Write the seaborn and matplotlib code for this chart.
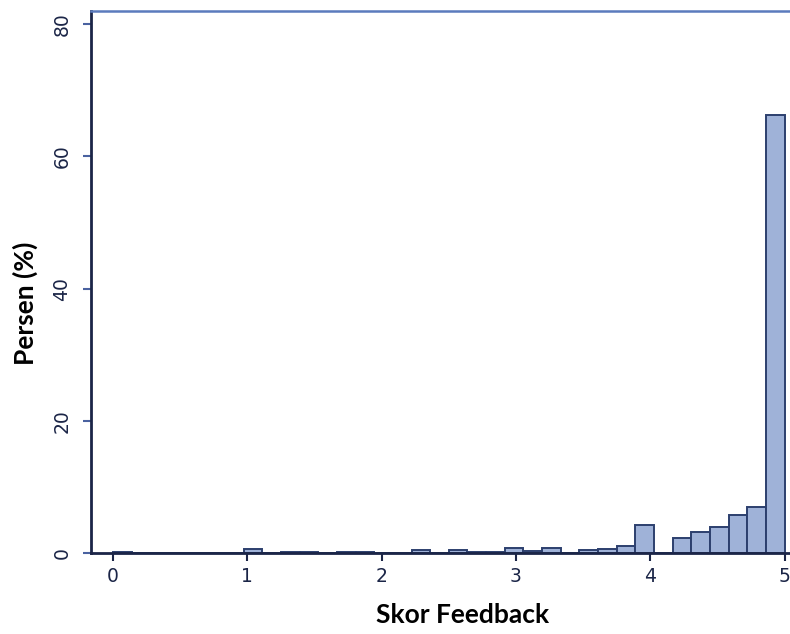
import numpy as np
import pandas as pd
import matplotlib
matplotlib.use("Agg")
import matplotlib.pyplot as plt
import seaborn as sns

# Percentage of respondents per bin (36 equal bins from 0 to 5)
bin_lo = 0.0
bin_hi = 5.0
n_bins = 36
percent = [0.1, 0, 0, 0, 0, 0, 0, 0.65, 0, 0.1,
           0.1, 0, 0.1, 0.1, 0, 0.05, 0.4, 0, 0.45, 0.15,
           0.1, 0.7, 0.3, 0.7, 0, 0.5, 0.65, 1.1, 4.3, 0,
           2.3, 3.2, 4.0, 5.8, 6.95, 66.2]
x_ticks = [0, 1, 2, 3, 4, 5]
y_ticks = [0, 20, 40, 60, 80]

edges = np.linspace(bin_lo, bin_hi, n_bins + 1)
centers = (edges[:-1] + edges[1:]) / 2
df = pd.DataFrame({"skor": centers, "persen": percent})

sns.set_theme(style="white")
plt.rcParams["font.family"] = ["DejaVu Sans"]

fig = plt.figure(figsize=(7.9, 6.34), dpi=100)
ax = fig.add_axes([91 / 790, 1 - 553 / 634, 1 - 91 / 790, (553 - 11) / 634])

navy = "#1b2547"
sns.histplot(data=df, x="skor", weights="persen", bins=n_bins,
             binrange=(bin_lo, bin_hi), ax=ax,
             color="#9fb2d8", edgecolor="#2c3f6e", linewidth=1.4, alpha=1.0)

ax.set_xlim(-0.164, 5.04)
ax.set_ylim(0, 82.0)
ax.set_xticks(x_ticks)
ax.set_yticks(y_ticks)
ax.set_xticklabels([str(t) for t in x_ticks])
ax.set_yticklabels([str(t) for t in y_ticks])

ax.tick_params(axis="x", direction="out", length=6, width=1.5, color=navy,
               labelsize=13.5, labelcolor=navy, pad=4, bottom=True)
ax.tick_params(axis="y", direction="out", length=6, width=1.5, color="#4a62a0",
               labelsize=13.5, labelcolor=navy, pad=8, labelrotation=90, left=True)
for lab in ax.get_yticklabels():
    lab.set_va("center")

for s in ["left", "bottom"]:
    ax.spines[s].set_color(navy)
    ax.spines[s].set_linewidth(2)
ax.spines["top"].set_color("#5b7bbd")
ax.spines["top"].set_linewidth(1.8)
ax.spines["right"].set_visible(False)

ax.set_xlabel("Skor Feedback", fontsize=19, fontweight="bold",
              family=["Lato", "DejaVu Sans"], color="black")
ax.set_ylabel("Persen (%)", fontsize=19, fontweight="bold",
              family=["Lato", "DejaVu Sans"], color="black")
ax.xaxis.set_label_coords((463 - 91) / 699, -(603 - 553) / 542)
ax.yaxis.set_label_coords(-(91 - 38) / 699, (553 - 303) / 542)

fig.savefig("out.png", dpi=100)
